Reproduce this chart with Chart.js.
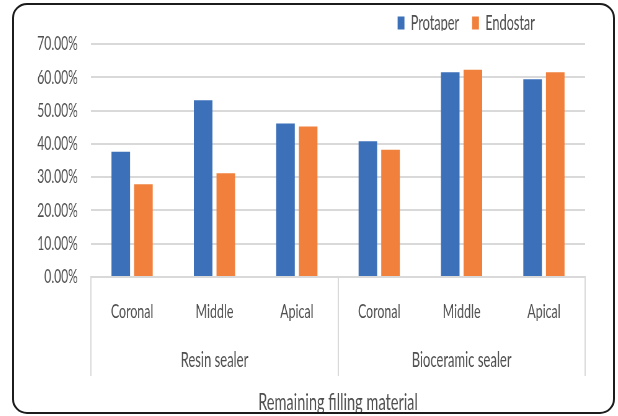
<!DOCTYPE html>
<html>
<head>
<meta charset="utf-8">
<script src="https://cdn.jsdelivr.net/npm/chart.js@4"></script>
<style>
  html, body { margin: 0; padding: 0; background: #ffffff; }
  #frame {
    position: absolute; left: 12px; top: 3px;
    width: 599px; height: 407px;
    border: 2px solid #1c1c1c; border-radius: 15px;
    overflow: hidden; background: #ffffff;
  }
  #wrap {
    position: absolute; left: 0; top: 0;
    width: 966px; height: 407px;
    transform: scaleX(0.6201); transform-origin: 0 0;
  }
</style>
</head>
<body>
<div id="frame"><div id="wrap"><canvas id="c"></canvas></div></div>
<script>
const positions = ['Coronal', 'Middle', 'Apical', 'Coronal', 'Middle', 'Apical'];
const groups = ['Resin sealer', 'Bioceramic sealer'];
const protaper = [37.6, 53.1, 46.1, 40.8, 61.5, 59.4];
const endostar = [27.9, 31.2, 45.2, 38.2, 62.3, 61.5];
const yTickLabels = ['0.00%', '10.00%', '20.00%', '30.00%', '40.00%', '50.00%', '60.00%', '70.00%'];
const axisTitle = 'Remaining filling material';

const FONT = 'Lato';
const TXT = '#4f4f4f';
const GRID = '#d9d9d9';

const legendPlacer = {
  id: 'legendPlacer',
  afterLayout(chart) {
    const lg = chart.legend;
    if (!lg) return;
    const h = lg.height;
    lg.top = -13.25;
    lg.bottom = lg.top + h;
    lg.right = 861;
  }
};

new Chart(document.getElementById('c'), {
  type: 'bar',
  data: {
    labels: positions,
    datasets: [
      { label: 'Protaper', data: protaper, backgroundColor: '#3c70b8', borderWidth: 0 },
      { label: 'Endostar', data: endostar, backgroundColor: '#f0803c', borderWidth: 0 }
    ]
  },
  options: {
    responsive: true,
    maintainAspectRatio: false,
    animation: false,
    devicePixelRatio: 1,
    barPercentage: 0.82,
    categoryPercentage: 0.55,
    layout: { padding: { left: 0, right: 45, top: 0, bottom: 0 } },
    plugins: {
      tooltip: { enabled: false },
      legend: {
        position: 'top',
        align: 'end',
        maxHeight: 39,
        labels: {
          boxWidth: 11, boxHeight: 13, padding: 21,
          color: TXT,
          font: { family: FONT, size: 20.5 }
        }
      }
    },
    scales: {
      y: {
        min: 0, max: 70,
        ticks: {
          stepSize: 10,
          padding: 21,
          color: TXT,
          font: { family: FONT, size: 19.5 },
          callback: (v, i) => yTickLabels[i]
        },
        grid: { color: GRID, lineWidth: 2, drawTicks: false },
        border: { display: false },
        afterFit: s => { s.width = 124; }
      },
      x: {
        type: 'category',
        labels: positions,
        offset: true,
        weight: 1,
        position: 'bottom',
        grid: {
          offset: true, drawOnChartArea: false, drawTicks: true, tickLength: 58, lineWidth: 2,
          color: ctx => (ctx.type !== 'tick' || ctx.index % 3 === 0) ? GRID : 'rgba(0,0,0,0)'
        },
        border: { display: true, color: GRID, width: 2 },
        ticks: {
          padding: -35.5, color: TXT, maxRotation: 0, autoSkip: false,
          font: { family: FONT, size: 20, lineHeight: 1.2 }
        },
        afterFit: s => { s.height = 58; }
      },
      x2: {
        type: 'category',
        labels: groups,
        offset: true,
        weight: 2,
        position: 'bottom',
        grid: { offset: true, drawOnChartArea: false, drawTicks: true, tickLength: 41, lineWidth: 2, color: GRID },
        border: { display: false },
        ticks: {
          padding: -28.1, color: TXT, maxRotation: 0, autoSkip: false,
          font: { family: FONT, size: 21, lineHeight: 1.2 }
        },
        title: {
          display: true, text: axisTitle, color: TXT, padding: { top: 0, bottom: -2 },
          font: { family: FONT, size: 23.5, lineHeight: 1 }
        },
        afterFit: s => { s.height = 77; }
      }
    }
  },
  plugins: [legendPlacer]
});
</script>
</body>
</html>
